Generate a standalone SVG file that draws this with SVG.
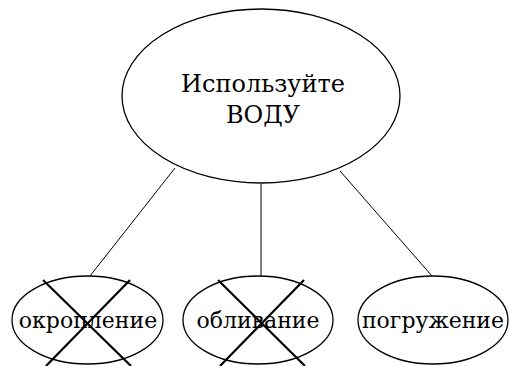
<svg xmlns="http://www.w3.org/2000/svg" width="510" height="366" viewBox="0 0 510 366">
<style>
.node{fill:#fff;stroke:#000;stroke-width:1.3}
.edge{stroke:#000;stroke-width:1;fill:none}
.x{stroke:#000;stroke-width:2.2;fill:none}
.t{font-family:"DejaVu Serif",serif;text-anchor:middle;fill:#000}
.big{font-size:24px}
.small{font-size:22px}
</style>
<rect width="510" height="366" fill="#fff"/>
<g id="connectors">
<line class="edge" x1="175" y1="168" x2="90" y2="276"/>
<line class="edge" x1="261" y1="184" x2="261" y2="276"/>
<line class="edge" x1="340" y1="171" x2="432" y2="276"/>
</g>
<g id="root">
<ellipse class="node" cx="261" cy="96" rx="139" ry="87"/>
<text class="t big" x="263" y="92">Используйте</text>
<text class="t big" x="263" y="123">ВОДУ</text>
</g>
<g id="n1">
<ellipse class="node" cx="87.5" cy="320" rx="75.5" ry="44"/>
<text class="t small" x="88" y="328">окропление</text>
<line class="x" x1="43" y1="280" x2="131" y2="366"/>
<line class="x" x1="130" y1="280" x2="46" y2="366"/>
</g>
<g id="n2">
<ellipse class="node" cx="258" cy="320" rx="75" ry="44"/>
<text class="t small" x="258" y="328">обливание</text>
<line class="x" x1="218" y1="280" x2="305" y2="366"/>
<line class="x" x1="304" y1="280" x2="220" y2="366"/>
</g>
<g id="n3">
<ellipse class="node" cx="433" cy="320" rx="75" ry="44"/>
<text class="t small" x="433" y="328">погружение</text>
</g>
</svg>
